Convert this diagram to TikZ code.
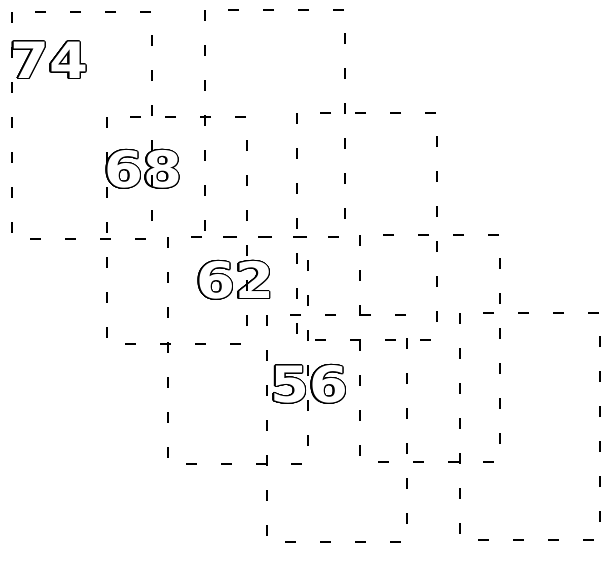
\documentclass[tikz,border=0pt]{standalone}
\usepackage{fontspec}
\usepackage{contour}
\newfontfamily\digitfont{DejaVu Sans Bold}
\contourlength{0.5pt}
\contournumber{32}
\tikzset{
  frame/.style={black, line width=0.6pt, dash pattern=on 5.5pt off 12pt},
  numlabel/.style={inner sep=0pt, font=\digitfont\fontsize{25}{25}\selectfont}
}
\newcommand{\hollow}[1]{\scalebox{1.12}[1]{\contour{black}{\textcolor{white}{#1}}}}

\begin{document}
\begin{tikzpicture}[x=0.5pt, y=-0.5pt]
		\def\bw{140}
		\def\bh{227}
		\useasboundingbox (0,0) rectangle (604,563);

		% --- Numbers (under the frames) ---
		\node[numlabel] (n74) at (49, 61) {\hollow{74}};
		\node[numlabel] (n68) at (143, 170) {\hollow{68}};
		\node[numlabel] (n62) at (235, 281) {\hollow{62}};
		\node[numlabel] (n56) at (309, 385) {\hollow{56}};

		% --- Dashed frames ---
		\draw[frame] (12, 12) rectangle ++(\bw, \bh);
		\draw[frame] (205, 10) rectangle ++(\bw, \bh);
		\draw[frame] (107, 117) rectangle ++(\bw, \bh);
		\draw[frame] (297, 113) rectangle ++(\bw, \bh);
		\draw[frame] (168, 237) rectangle ++(\bw, \bh);
		\draw[frame] (360, 235) rectangle ++(\bw, \bh);
		\draw[frame] (267, 315) rectangle ++(\bw, \bh);
		\draw[frame] (460, 313) rectangle ++(\bw, \bh);
	\end{tikzpicture}
\end{document}
